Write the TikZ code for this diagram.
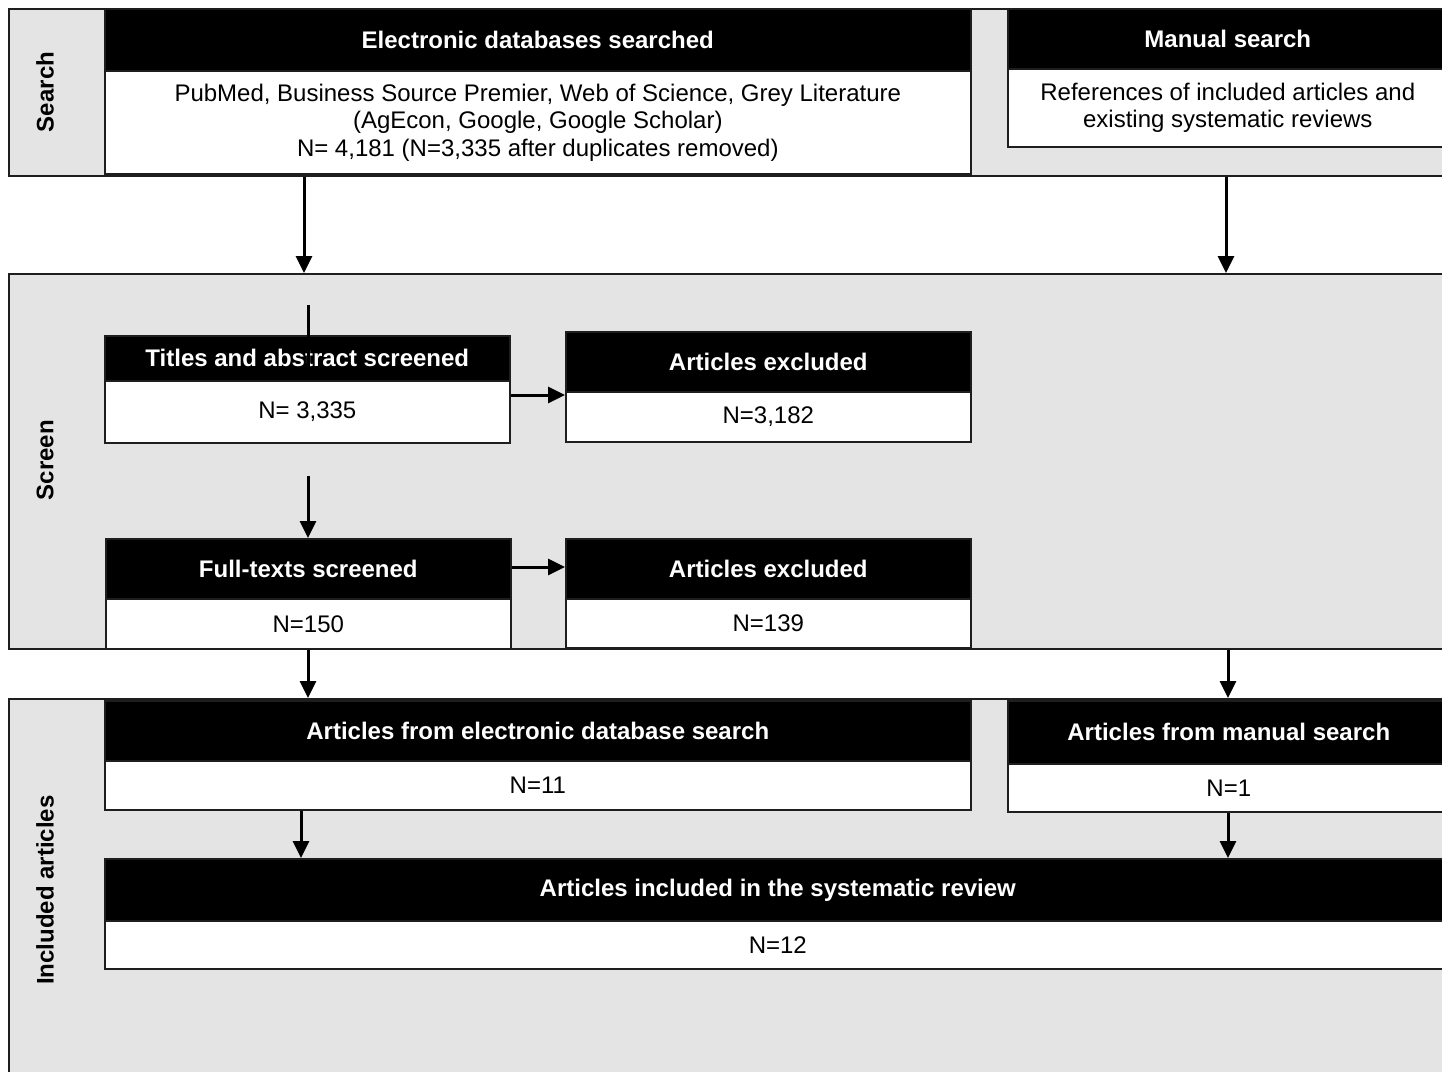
\documentclass[tikz,border=0pt]{standalone}
\usepackage{fontspec}
\setmainfont{Liberation Sans}
\usetikzlibrary{arrows.meta}
\definecolor{bandgray}{HTML}{E4E4E4}
\definecolor{edge}{HTML}{1E1E1E}
\begin{document}
\begin{tikzpicture}[x=1pt,y=-1pt,
  band/.style={draw=edge,line width=2.2pt,fill=bandgray},
  hdr/.style={draw=edge,line width=1.6pt,fill=black,text=white,inner sep=0pt,
    font=\fontsize{24}{27.5}\selectfont\bfseries,align=center},
  body/.style={draw=edge,line width=1.6pt,fill=white,text=black,inner sep=0pt,
    font=\fontsize{24}{27.5}\selectfont,align=center},
  phase/.style={rotate=90,font=\fontsize{24}{28}\selectfont\bfseries},
  arr/.style={line width=3pt,-{Triangle[length=17pt,width=16pt]}},
  tick/.style={line width=3pt}]
\useasboundingbox (0,0) rectangle (1442,1071);

% phase bands
\node[band,minimum width=1452pt,minimum height=167pt,anchor=north west,inner sep=0pt] (bsearch) at (8,8) {};
\node[band,minimum width=1452pt,minimum height=375pt,anchor=north west,inner sep=0pt] (bscreen) at (8,273) {};
\node[band,minimum width=1452pt,minimum height=400pt,anchor=north west,inner sep=0pt] (bincl) at (8,698) {};

\node[phase] (lsearch) at (45,92) {Search};
\node[phase] (lscreen) at (45,460) {Screen};
\node[phase] (lincl) at (45,890) {Included articles};

% search
\node[hdr,minimum width=866pt,minimum height=62pt,anchor=north west] (eh) at (104,8) {Electronic databases searched};
\node[body,minimum width=866pt,minimum height=103pt,anchor=north west] (eb) at (104,70)
  {PubMed, Business Source Premier, Web of Science, Grey Literature\\(AgEcon, Google, Google Scholar)\\N= 4,181 (N=3,335 after duplicates removed)};
\node[hdr,minimum width=440pt,minimum height=60pt,anchor=north west] (mh) at (1007,8) {Manual search};
\node[body,minimum width=440pt,minimum height=78pt,anchor=north west] (mb) at (1007,68)
  {References of included articles and\\existing systematic reviews};

% screen
\node[hdr,minimum width=405pt,minimum height=45pt,anchor=north west] (th) at (104,335) {Titles and abstract screened};
\node[body,minimum width=405pt,minimum height=62pt,anchor=north west] (tb) at (104,380) {N= 3,335};
\node[hdr,minimum width=405pt,minimum height=60pt,anchor=north west] (x1h) at (565,331) {Articles excluded};
\node[body,minimum width=405pt,minimum height=50pt,anchor=north west] (x1b) at (565,391) {N=3,182};
\node[hdr,minimum width=405pt,minimum height=60pt,anchor=north west] (fh) at (105,538) {Full-texts screened};
\node[body,minimum width=405pt,minimum height=50pt,anchor=north west] (fb) at (105,598) {N=150};
\node[hdr,minimum width=405pt,minimum height=60pt,anchor=north west] (x2h) at (565,538) {Articles excluded};
\node[body,minimum width=405pt,minimum height=49pt,anchor=north west] (x2b) at (565,598) {N=139};

% included
\node[hdr,minimum width=866pt,minimum height=60pt,anchor=north west] (ah) at (104,700) {Articles from electronic database search};
\node[body,minimum width=866pt,minimum height=49pt,anchor=north west] (ab) at (104,760) {N=11};
\node[hdr,minimum width=442pt,minimum height=63pt,anchor=north west] (mah) at (1007,700) {Articles from manual search};
\node[body,minimum width=442pt,minimum height=48pt,anchor=north west] (mab) at (1007,763) {N=1};
\node[hdr,minimum width=1346pt,minimum height=62pt,anchor=north west] (ih) at (104,858) {Articles included in the systematic review};
\node[body,minimum width=1346pt,minimum height=48pt,anchor=north west] (ib) at (104,920) {N=12};

% connector columns and rows
\coordinate (cA) at (304,0);
\coordinate (cB) at (1226,0);
\coordinate (cC) at (308,0);
\coordinate (cD) at (1228,0);
\coordinate (cE) at (301,0);
\coordinate (tk) at (308,305);
\coordinate (tkend) at (308,370);
\coordinate (r1) at (0,395);
\coordinate (r2) at (0,567);
\coordinate (fin) at (308,476);

% connectors
\draw[arr] (bsearch.south -| cA) -- (bscreen.north -| cA);
\draw[arr] (bsearch.south -| cB) -- (bscreen.north -| cB);
\draw[tick] (tk) -- (tkend);
\draw[arr] (tb.east |- r1) -- (x1b.west |- r1);
\draw[arr] (fin) -- (fh.north -| fin);
\draw[arr] (fh.east |- r2) -- (x2h.west |- r2);
\draw[arr] (bscreen.south -| cC) -- (bincl.north -| cC);
\draw[arr] (bscreen.south -| cD) -- (bincl.north -| cD);
\draw[arr] (ab.south -| cE) -- (ih.north -| cE);
\draw[arr] (mab.south -| cD) -- (ih.north -| cD);
\end{tikzpicture}
\end{document}
